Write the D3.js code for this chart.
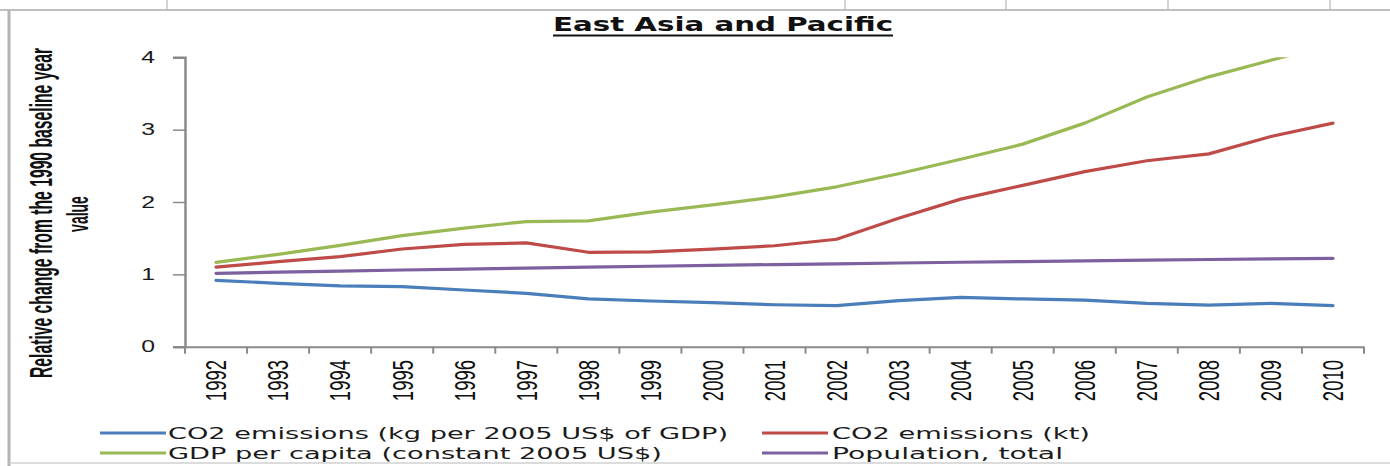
<!DOCTYPE html>
<html><head><meta charset="utf-8">
<script src="https://cdn.jsdelivr.net/npm/d3@7"></script>
<style>html,body{margin:0;padding:0;background:#fff;overflow:hidden} svg{display:block}</style>
</head><body><svg id="c" width="1390" height="466"></svg>
<script>
// ---- data ----
const years = ["1992","1993","1994","1995","1996","1997","1998","1999","2000","2001","2002","2003","2004","2005","2006","2007","2008","2009","2010"];
const co2Intensity = [0.917,0.876,0.84,0.83,0.784,0.738,0.66,0.632,0.61,0.58,0.567,0.636,0.682,0.66,0.645,0.60,0.576,0.60,0.567];
const co2Kt = [1.10,1.175,1.245,1.35,1.415,1.434,1.305,1.31,1.35,1.395,1.485,1.775,2.04,2.23,2.42,2.57,2.665,2.905,3.09];
const gdpPerCapita = [1.166,1.277,1.40,1.535,1.64,1.73,1.74,1.86,1.96,2.07,2.21,2.39,2.59,2.80,3.09,3.45,3.73,3.96,4.18];
const population = [1.014,1.03,1.045,1.06,1.073,1.087,1.10,1.112,1.124,1.135,1.146,1.157,1.167,1.177,1.187,1.196,1.205,1.213,1.221];
const yTicks = [0,1,2,3,4];
const seriesNames = ["CO2 emissions (kg per 2005 US$ of GDP)","CO2 emissions (kt)","GDP per capita (constant 2005 US$)","Population, total"];
const seriesColors = ["#4a7ebb","#be4b48","#98b954","#7d60a0"];
const titleText = "East Asia and Pacific";
const yTitle1 = "Relative change from the 1990 baseline year";
const yTitle2 = "value";

// ---- layout ----
const svg = d3.select("#c");
const X0 = 185, X1 = 1364, Y0 = 346.7, Y4 = 57.3;
const SX = 1.55; // horizontal stretch of the original picture
const axisColor = "#8a8a8a";

// spreadsheet frame
const frame = svg.append("g");
[167,845,1006,1168,1330].forEach(x=>frame.append("line").attr("x1",x).attr("x2",x).attr("y1",0).attr("y2",10).attr("stroke","#c6c6c6").attr("stroke-width",1.5));
frame.append("line").attr("x1",0).attr("x2",1390).attr("y1",10).attr("y2",10).attr("stroke","#c0c0c0").attr("stroke-width",2);
frame.append("line").attr("x1",9).attr("x2",9).attr("y1",10).attr("y2",466).attr("stroke","#b4b4b4").attr("stroke-width",3);
frame.append("line").attr("x1",9).attr("x2",1390).attr("y1",463).attr("y2",463).attr("stroke","#d0d0d0").attr("stroke-width",1.5);

const x = d3.scaleBand().domain(years).range([X0,X1]).paddingInner(0).paddingOuter(0);
const y = d3.scaleLinear().domain([0,4]).range([Y0,Y4]);
const cx = d => x(d) + x.bandwidth()/2;

// y axis
const yAx = svg.append("g").attr("transform",`translate(${X0},0)`)
  .call(d3.axisLeft(y).tickValues(yTicks).tickSize(12).tickFormat(""));
yAx.select(".domain").attr("stroke",axisColor).attr("stroke-width",2.5);
yAx.selectAll(".tick line").attr("stroke",axisColor).attr("stroke-width",1.5);
yTicks.forEach(t=>{
  svg.append("text").attr("transform",`translate(155,${y(t)}) scale(${SX},1)`)
    .attr("text-anchor","end").attr("dy","0.36em")
    .attr("font-family","Liberation Sans, Arial, sans-serif").attr("font-size",16).attr("fill","#1a1a1a")
    .text(t);
});

// x axis
const xAx = svg.append("g").attr("transform",`translate(0,${Y0})`)
  .call(d3.axisBottom(x).tickSize(0).tickFormat(""));
xAx.select(".domain").attr("stroke",axisColor).attr("stroke-width",2);
const bounds = years.map(d=>x(d)).concat([X1]);
svg.append("g").selectAll("line").data(bounds).join("line")
  .attr("x1",d=>d).attr("x2",d=>d).attr("y1",Y0).attr("y2",Y0+7)
  .attr("stroke",axisColor).attr("stroke-width",2);
years.forEach(yr=>{
  svg.append("text").attr("transform",`translate(${cx(yr)},360) scale(${SX},1) rotate(-90)`)
    .attr("text-anchor","end").attr("dy","0.36em")
    .attr("font-family","Liberation Sans, Arial, sans-serif").attr("font-size",18.5).attr("fill","#111")
    .text(yr);
});

// lines
svg.append("clipPath").attr("id","plotclip").append("rect")
  .attr("x",X0).attr("y",Y4).attr("width",X1-X0).attr("height",Y0-Y4);
const line = d3.line().x((d,i)=>cx(years[i])).y(d=>y(d));
const allSeries = [co2Intensity, co2Kt, gdpPerCapita, population];
const order = [3,0,1,2];
const lg = svg.append("g").attr("clip-path","url(#plotclip)");
order.forEach(k=>{
  lg.append("path").datum(allSeries[k]).attr("d",line)
    .attr("fill","none").attr("stroke",seriesColors[k]).attr("stroke-width",3.2)
    .attr("stroke-linejoin","round").attr("stroke-linecap","round");
});

// title
svg.append("text").attr("x",553).attr("y",31)
  .attr("font-family","DejaVu Sans, Verdana, sans-serif").attr("font-weight","bold").attr("font-size",20)
  .attr("fill","#111").attr("textLength",340).attr("lengthAdjust","spacingAndGlyphs")
  .text(titleText);
svg.append("line").attr("x1",553).attr("x2",893).attr("y1",35.5).attr("y2",35.5).attr("stroke","#111").attr("stroke-width",2);

// y title
svg.append("text").attr("transform",`translate(52,213) scale(2.1,1) rotate(-90)`)
  .attr("text-anchor","middle").attr("font-family","Liberation Sans, Arial, sans-serif").attr("font-weight","bold")
  .attr("font-size",14.5).attr("fill","#111").attr("textLength",330).attr("lengthAdjust","spacingAndGlyphs")
  .text(yTitle1);
svg.append("text").attr("transform",`translate(88,214) scale(2.1,1) rotate(-90)`)
  .attr("text-anchor","middle").attr("font-family","Liberation Sans, Arial, sans-serif").attr("font-weight","bold")
  .attr("font-size",14).attr("fill","#111")
  .text(yTitle2);

// legend
const legPos = [
  {lx:100, tx:168, y:433, w:560},
  {lx:762, tx:832, y:433, w:258},
  {lx:100, tx:168, y:453, w:494},
  {lx:762, tx:832, y:453, w:231}
];
legPos.forEach((p,k)=>{
  svg.append("line").attr("x1",p.lx).attr("x2",p.lx+66).attr("y1",p.y).attr("y2",p.y)
    .attr("stroke",seriesColors[k]).attr("stroke-width",3);
  svg.append("text").attr("x",p.tx).attr("y",p.y).attr("dy","0.36em")
    .attr("font-family","DejaVu Sans, Verdana, sans-serif").attr("font-size",16.5).attr("fill","#1a1a1a")
    .attr("textLength",p.w).attr("lengthAdjust","spacingAndGlyphs")
    .text(seriesNames[k]);
});
</script>
</body></html>
